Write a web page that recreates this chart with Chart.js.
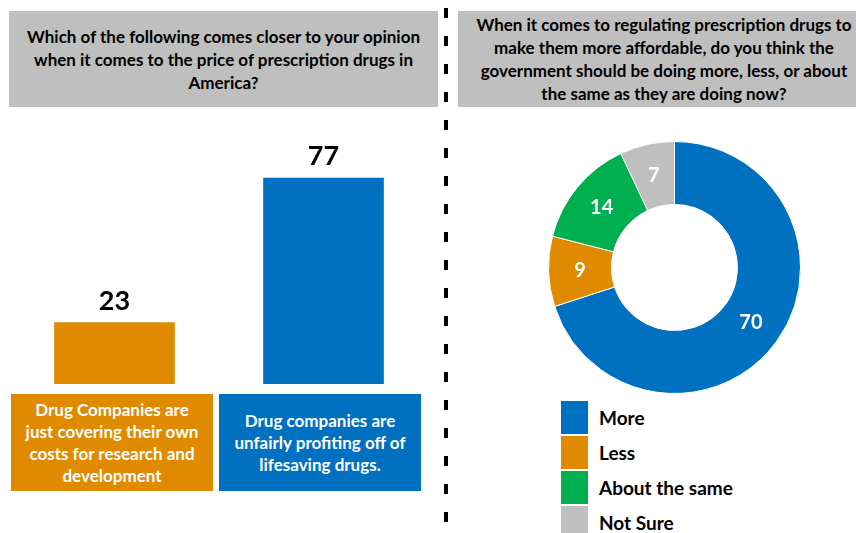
<!DOCTYPE html>
<html>
<head>
<meta charset="utf-8">
<title>Prescription drug prices</title>
<script src="https://cdn.jsdelivr.net/npm/chart.js@4.4.0/dist/chart.umd.min.js"></script>
<style>
    html, body { margin: 0; padding: 0; background: #ffffff; }
    #page { position: relative; width: 856px; height: 533px; overflow: hidden; font-family: Lato, "Open Sans", sans-serif; font-weight: bold; }
    .title-box { position: absolute; top: 11px; height: 96px; background: #bfbfbf; color: #000; display: flex; align-items: center; justify-content: center; text-align: center; font-size: 17px; line-height: 23px; white-space: nowrap; }
    #leftTitle { left: 9px; width: 429px; }
    #rightTitle { left: 458px; width: 412px; }
    #divider { position: absolute; left: 444px; top: 0; width: 4px; height: 533px;
        background: repeating-linear-gradient(to bottom, transparent 0 18px, #000 18px 33px, transparent 33px 46px);
        background-size: 4px 28px; background-position: 0 -10px; }
    #barWrap { position: absolute; left: 10px; top: 130px; }
    #donutWrap { position: absolute; left: 548px; top: 141px; }
    .cat-box { position: absolute; top: 394px; width: 202px; height: 97px; color: #fff; display: flex; align-items: center; justify-content: center; text-align: center; font-size: 17px; line-height: 22px; white-space: nowrap; }
    .legend-row { position: absolute; left: 561px; height: 34px; display: flex; align-items: center; }
    .legend-row .swatch { width: 27px; height: 33px; margin-right: 11px; }
    .legend-row span { font-size: 19px; color: #000; }
</style>
</head>
<body>
<div id="page">
    <div class="title-box" id="leftTitle">Which of the following comes closer to your opinion<br>when it comes to the price of prescription drugs in<br>America?</div>
    <div class="title-box" id="rightTitle">When it comes to regulating prescription drugs to<br>make them more affordable, do you think the<br>government should be doing more, less, or about<br>the same as they are doing now?</div>
    <div id="divider"></div>
    <div id="barWrap"><canvas id="opinionChart" width="418" height="254"></canvas></div>
    <div id="catLabels"></div>
    <div id="donutWrap"><canvas id="regulationChart" width="253" height="253"></canvas></div>
    <div id="legend"></div>
</div>
<script>
// Left chart: opinion on drug prices (multi-line category labels)
const opinionCategories = [
    ["Drug Companies are", "just covering their own", "costs for research and", "development"],
    ["Drug companies are", "unfairly profiting off of", "lifesaving drugs."]
];
const opinionValues = [23, 77];
const opinionColors = ["#e08a00", "#0070c0"];

// Right chart: should government regulate more or less
const regulationLabels = ["More", "Less", "About the same", "Not Sure"];
const regulationValues = [70, 9, 14, 7];
const regulationColors = ["#0070c0", "#e08a00", "#00b050", "#bfbfbf"];

const FONT = "Lato, 'Open Sans', sans-serif";

// value labels drawn above bars / inside slices
const barValueLabels = {
    id: "barValueLabels",
    afterDatasetsDraw(chart) {
        const ctx = chart.ctx;
        const meta = chart.getDatasetMeta(0);
        ctx.save();
        ctx.font = "bold 27px " + FONT;
        ctx.fillStyle = "#000";
        ctx.textAlign = "center";
        ctx.textBaseline = "bottom";
        meta.data.forEach((bar, i) => {
            ctx.fillText(chart.data.datasets[0].data[i], bar.x, bar.y - 8);
        });
        ctx.restore();
    }
};

const sliceValueLabels = {
    id: "sliceValueLabels",
    afterDatasetsDraw(chart) {
        const ctx = chart.ctx;
        const meta = chart.getDatasetMeta(0);
        ctx.save();
        ctx.font = "bold 20px " + FONT;
        ctx.fillStyle = "#fff";
        ctx.textAlign = "center";
        ctx.textBaseline = "middle";
        meta.data.forEach((arc, i) => {
            const p = arc.getCenterPoint();
            ctx.fillText(chart.data.datasets[0].data[i], p.x, p.y);
        });
        ctx.restore();
    }
};

new Chart(document.getElementById("opinionChart"), {
    type: "bar",
    data: {
        labels: opinionCategories,
        datasets: [{ data: opinionValues, backgroundColor: opinionColors, barThickness: 120, borderWidth: 0 }]
    },
    options: {
        responsive: false,
        animation: false,
        layout: { padding: 0 },
        plugins: { legend: { display: false }, tooltip: { enabled: false } },
        scales: {
            x: { display: false },
            y: { display: false, min: 0, max: 95 }
        }
    },
    plugins: [barValueLabels]
});

new Chart(document.getElementById("regulationChart"), {
    type: "doughnut",
    data: {
        labels: regulationLabels,
        datasets: [{ data: regulationValues, backgroundColor: regulationColors, borderColor: "#ffffff", borderWidth: 1, hoverOffset: 0 }]
    },
    options: {
        responsive: false,
        animation: false,
        cutout: "50%",
        layout: { padding: 0 },
        plugins: { legend: { display: false }, tooltip: { enabled: false } }
    },
    plugins: [sliceValueLabels]
});

// category boxes under the bars
const catLabels = document.getElementById("catLabels");
const catLefts = [11, 219];
opinionCategories.forEach((lines, i) => {
    const box = document.createElement("div");
    box.className = "cat-box";
    box.style.left = catLefts[i] + "px";
    box.style.background = opinionColors[i];
    box.innerHTML = "<div>" + lines.join("<br>") + "</div>";
    catLabels.appendChild(box);
});

// legend for the doughnut
const legend = document.getElementById("legend");
regulationLabels.forEach((label, i) => {
    const row = document.createElement("div");
    row.className = "legend-row";
    row.style.top = (400 + i * 35) + "px";
    row.innerHTML = '<div class="swatch" style="background:' + regulationColors[i] + '"></div><span>' + label + '</span>';
    legend.appendChild(row);
});
</script>
</body>
</html>
